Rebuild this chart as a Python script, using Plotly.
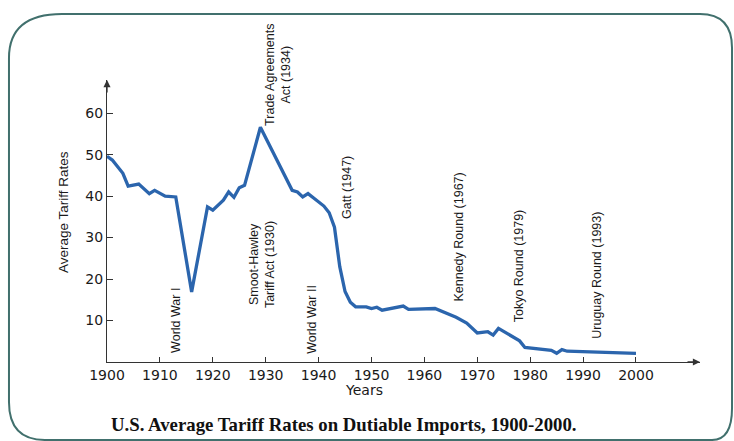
import plotly.graph_objects as go

# U.S. average tariff rates on dutiable imports (percent)
years = [1900, 1901, 1903, 1904, 1906, 1908, 1909, 1911, 1913, 1916,
         1919, 1920, 1922, 1923, 1924, 1925, 1926, 1929, 1935, 1936,
         1937, 1938, 1939, 1941, 1942, 1943, 1944, 1945, 1946, 1947,
         1949, 1950, 1951, 1952, 1956, 1957, 1962, 1966, 1968, 1970,
         1972, 1973, 1974, 1978, 1979, 1984, 1985, 1986, 1987, 1990, 2000]
rates = [49.6, 48.7, 45.5, 42.4, 42.9, 40.6, 41.4, 40.0, 39.8, 16.9,
         37.4, 36.6, 39.0, 41.0, 39.7, 42.0, 42.6, 56.6, 41.4, 41.0,
         39.8, 40.6, 39.6, 37.6, 36.0, 32.5, 23.0, 17.0, 14.4, 13.3,
         13.3, 12.9, 13.2, 12.5, 13.5, 12.7, 12.9, 10.8, 9.4, 7.0,
         7.3, 6.5, 8.1, 5.1, 3.5, 2.8, 2.1, 3.0, 2.6, 2.5, 2.1]

# Policy events: label text and where each label sits (year, rate level)
event_labels = ["World War I", "Smoot-Hawley<br>Tariff Act (1930)", "World War II",
                "Trade Agreements<br>Act (1934)", "Gatt (1947)", "Kennedy Round (1967)",
                "Tokyo Round (1979)", "Uruguay Round (1993)"]
event_x = [1913.0, 1929.3, 1938.75, 1932.3, 1945.4, 1966.5, 1977.9, 1992.6]
event_y = [10.1, 23.6, 10.4, 69.2, 42.0, 30.2, 23.1, 21.0]

x_ticks = list(range(1900, 2001, 10))
y_ticks = [10, 20, 30, 40, 50, 60]

x_max = 2012.1
y_max = 68

W, H = 734, 441
ML, MR, MT, MB = 107, 34, 80, 79
PW, PH = W - ML - MR, H - MT - MB

AXIS = "#333333"
LINE = "#2b65ad"
FRAME = "#41706d"
SANS = "Liberation Sans, Arial, sans-serif"
TICKFONT = "DejaVu Sans, Arial, sans-serif"


def px(x, y):
    """Pixel position on the page -> paper coordinates."""
    return (x - ML) / PW, (H - MB - y) / PH


fig = go.Figure()
fig.add_trace(go.Scatter(x=years, y=rates, mode="lines",
                         line=dict(color=LINE, width=3.3),
                         hoverinfo="skip", cliponaxis=False))

# Event labels, rotated to read bottom-to-top; vertical placement is given in
# rate units and converted to paper space so labels above the axis stay visible
for text, ex, ey in zip(event_labels, event_x, event_y):
    fig.add_annotation(x=ex, y=ey / y_max, xref="x", yref="paper", text=text,
                       showarrow=False, textangle=-90, xanchor="center",
                       yanchor="middle", align="center",
                       font=dict(family=SANS, size=12.5, color="#1a1a1a"))

# Arrowheads at the ends of both axes
fig.add_annotation(x=x_max, y=0, xref="x", yref="y", ax=-14, ay=0, showarrow=True,
                   arrowhead=2, arrowsize=1.1, arrowwidth=1.3, arrowcolor=AXIS, text="")
fig.add_annotation(x=1900, y=y_max, xref="x", yref="y", ax=0, ay=14, showarrow=True,
                   arrowhead=2, arrowsize=1.1, arrowwidth=1.3, arrowcolor=AXIS, text="")

# Axis titles and caption
ax_, ay_ = px(63, 212)
fig.add_annotation(x=ax_, y=ay_, xref="paper", yref="paper", text="Average Tariff Rates",
                   showarrow=False, textangle=-90, xanchor="center", yanchor="middle",
                   font=dict(family=SANS, size=13.5, color="#1a1a1a"))
yx, yy = px(363.5, 390)
fig.add_annotation(x=yx, y=yy, xref="paper", yref="paper", text="Years",
                   showarrow=False, xanchor="center", yanchor="middle",
                   font=dict(family=TICKFONT, size=14, color="#1a1a1a"))
tx, ty = px(344, 424)
fig.add_annotation(x=tx, y=ty, xref="paper", yref="paper",
                   text="<b>U.S. Average Tariff Rates on Dutiable Imports, 1900-2000.</b>",
                   showarrow=False, xanchor="center", yanchor="middle",
                   font=dict(family="Liberation Serif, Times New Roman, serif", size=18.8,
                             color="#111111"))

# Rounded frame around the whole panel
pts = {k: px(*v) for k, v in {
    "a": (62, 14), "b": (700, 14), "c": (732, 48), "d": (732, 408),
    "e": (712, 440), "f": (45, 440), "g": (9, 402), "h": (9, 58),
    "tr": (732, 14), "br": (732, 440), "bl": (9, 440), "tl": (9, 14)}.items()}


def p(k):
    return f"{pts[k][0]:.4f},{pts[k][1]:.4f}"


path = (f"M {p('a')} L {p('b')} Q {p('tr')} {p('c')} L {p('d')} Q {p('br')} {p('e')} "
        f"L {p('f')} Q {p('bl')} {p('g')} L {p('h')} Q {p('tl')} {p('a')} Z")
fig.add_shape(type="path", path=path, xref="paper", yref="paper",
              line=dict(color=FRAME, width=2), layer="below")

fig.update_layout(
    width=W, height=H, autosize=False,
    margin=dict(l=ML, r=MR, t=MT, b=MB),
    paper_bgcolor="white", plot_bgcolor="white",
    showlegend=False,
    xaxis=dict(range=[1900, x_max], tickvals=x_ticks, ticks="inside", ticklen=5,
               tickcolor=AXIS, tickwidth=1.2, showline=True, linecolor=AXIS, linewidth=1.3,
               showgrid=False, zeroline=False,
               tickfont=dict(family=TICKFONT, size=14, color="#1a1a1a")),
    yaxis=dict(range=[0, y_max], tickvals=y_ticks, ticks="inside", ticklen=6,
               tickcolor=AXIS, tickwidth=1.2, showline=True, linecolor=AXIS, linewidth=1.3,
               showgrid=False, zeroline=False,
               tickfont=dict(family=TICKFONT, size=14, color="#1a1a1a")),
)

fig.write_html("out.html")
